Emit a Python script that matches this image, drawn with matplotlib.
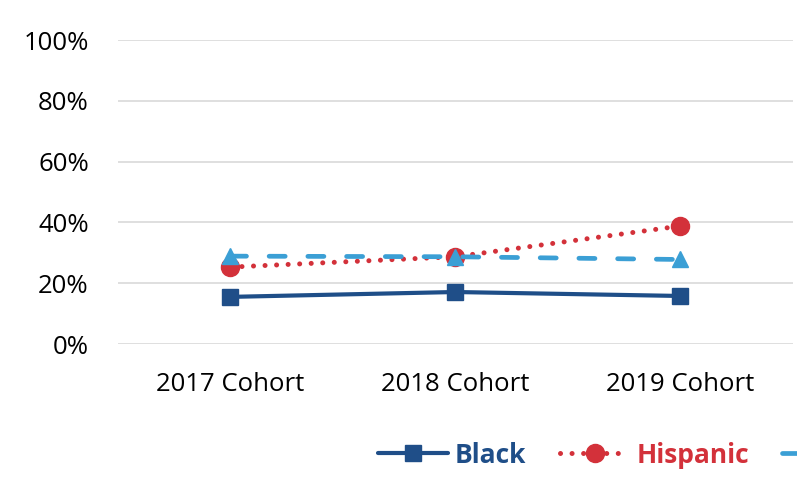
import matplotlib
matplotlib.use('Agg')
import matplotlib.pyplot as plt
from matplotlib.ticker import PercentFormatter

plt.rcParams['font.family'] = ['Open Sans', 'DejaVu Sans']

cohorts = ['2017 Cohort', '2018 Cohort', '2019 Cohort']
black = [0.155, 0.171, 0.158]
hispanic = [0.253, 0.287, 0.388]
white = [0.289, 0.287, 0.278]

c_black = '#1F4E88'
c_hisp = '#D3313A'
c_white = '#3B9FD5'

fig = plt.figure(figsize=(7.97, 4.86), dpi=100)
ax = fig.add_axes([118/797, 1-344/486, (792.5-118)/797, (344-40)/486])

x = range(len(cohorts))
ax.plot(x, black, color=c_black, lw=3, marker='s', ms=11.5, label='Black',
        solid_capstyle='round')
ax.plot(x, hispanic, color=c_hisp, lw=3.6, marker='o', ms=13, label='Hispanic',
        linestyle=(0, (0.01, 2.3)), dash_capstyle='round')
ax.plot(x, white, color=c_white, lw=3.4, marker='^', ms=12, label='White',
        linestyle=(0, (3.4, 4.8)), dash_capstyle='round')

ax.set_xlim(-0.5, 2.5)
ax.set_ylim(0, 1)
ax.set_yticks([0, 0.2, 0.4, 0.6, 0.8, 1.0])
ax.yaxis.set_major_formatter(PercentFormatter(1.0, decimals=0))
ax.set_xticks(list(x))
ax.set_xticklabels(cohorts)
ax.tick_params(axis='both', length=0, labelsize=18.5, colors='#000000')
ax.tick_params(axis='y', pad=21)
ax.tick_params(axis='x', pad=20)
ax.grid(axis='y', color='#D9D9D9', lw=1.2)
ax.set_axisbelow(True)
for s in ax.spines.values():
    s.set_visible(False)

leg = fig.legend(loc='center left', bbox_to_anchor=(378/797, 1-455/486), ncol=3,
                 frameon=False, handlelength=2.65, handletextpad=0.27,
                 columnspacing=1.25, borderpad=0, borderaxespad=0,
                 prop={'weight': 'bold', 'size': 19})
for txt, col in zip(leg.get_texts(), [c_black, c_hisp, c_white]):
    txt.set_color(col)

fig.savefig('out.png', dpi=100)
